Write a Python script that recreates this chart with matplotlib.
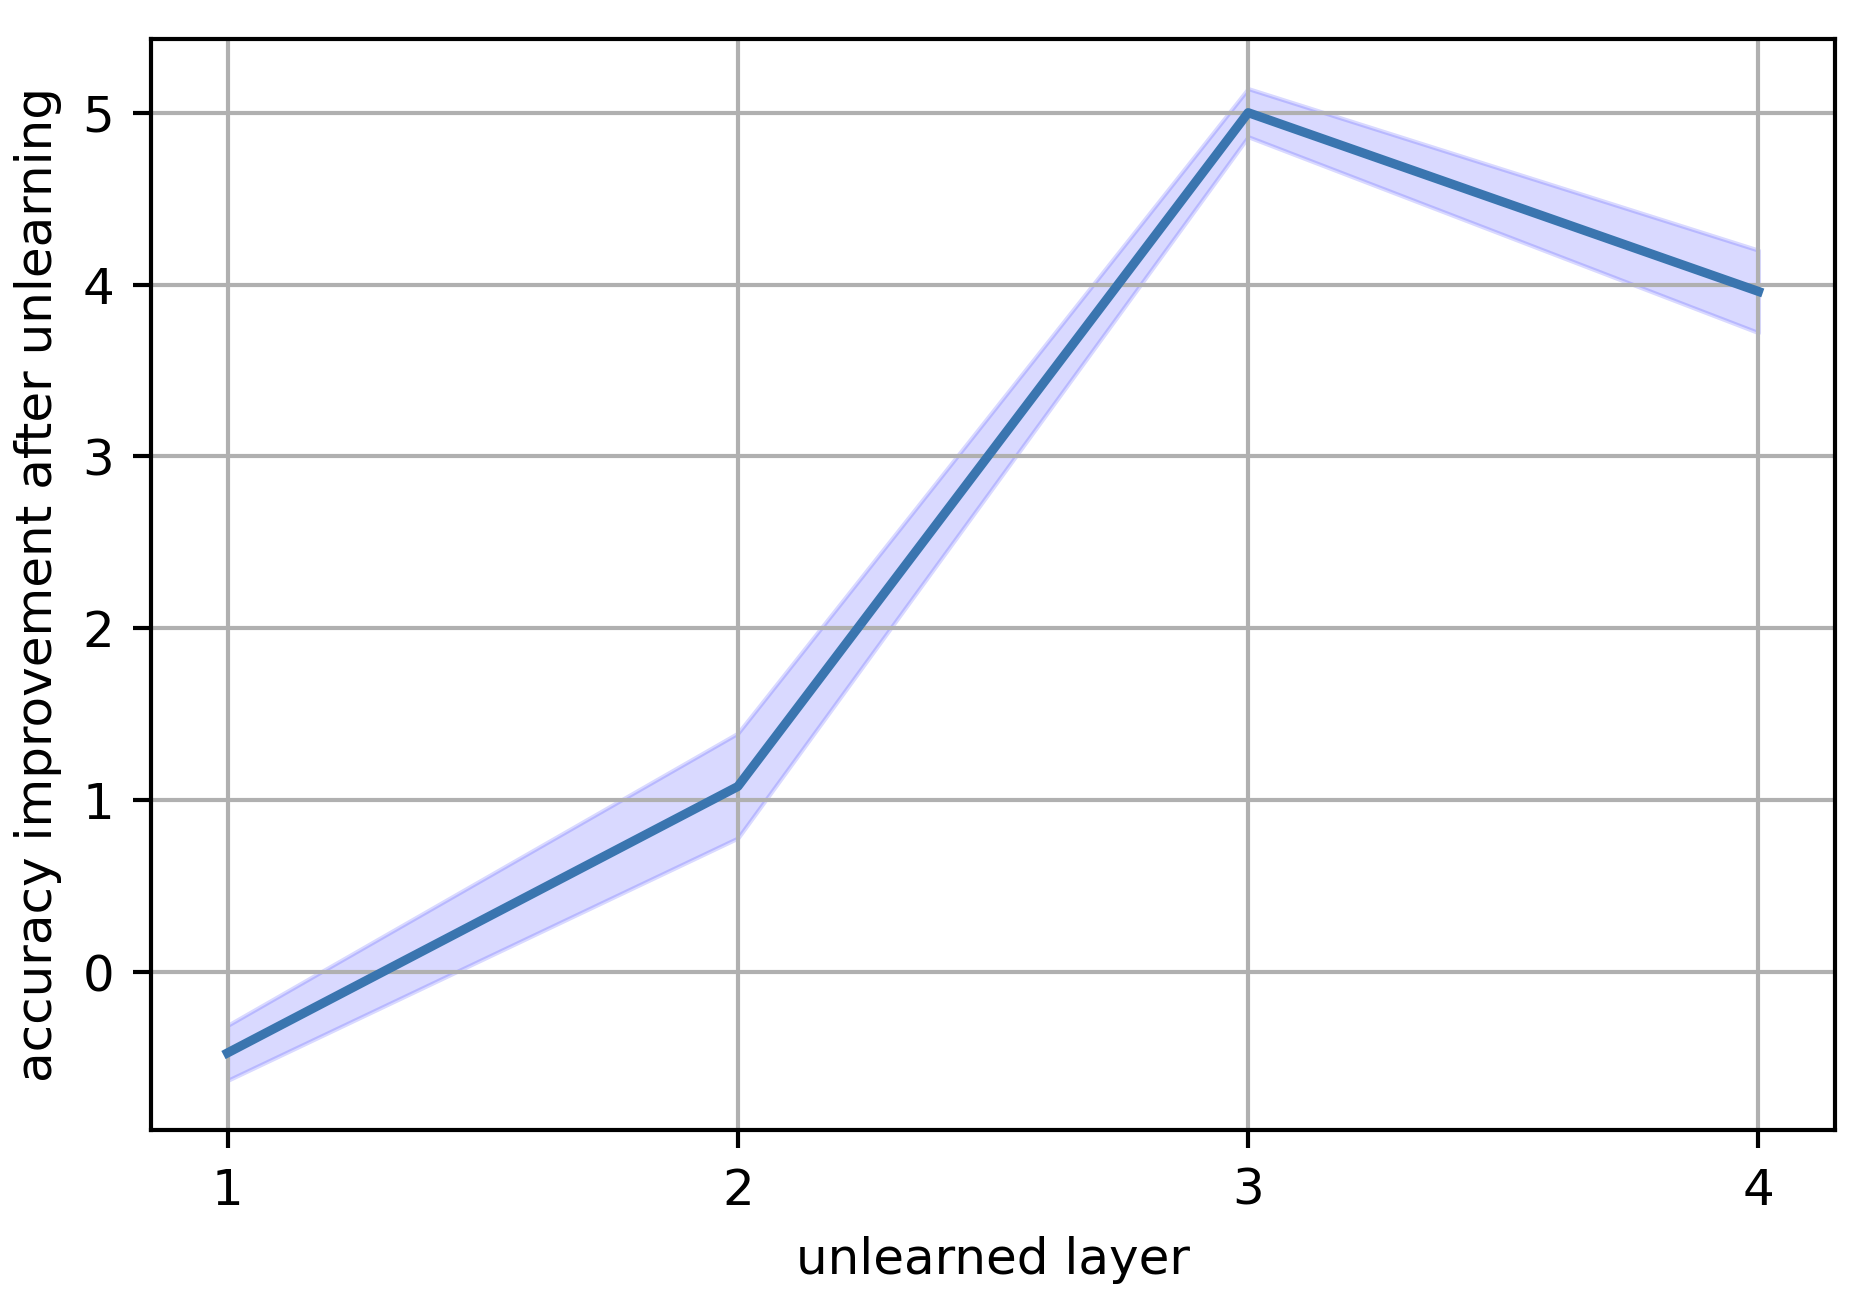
import matplotlib
matplotlib.use("Agg")
import matplotlib.pyplot as plt
import numpy as np

layers = [1, 2, 3, 4]
mean_improvement = [-0.47, 1.08, 5.00, 3.96]
upper_band = [-0.31, 1.39, 5.14, 4.20]
lower_band = [-0.63, 0.78, 4.86, 3.72]

plt.rcParams['font.size'] = 12
plt.rcParams['axes.linewidth'] = 1.0
plt.rcParams['grid.linewidth'] = 1.0
plt.rcParams['xtick.major.size'] = 4.4
plt.rcParams['ytick.major.size'] = 4.4
plt.rcParams['xtick.major.width'] = 1.0
plt.rcParams['ytick.major.width'] = 1.0
plt.rcParams['xtick.major.pad'] = 4.4
plt.rcParams['ytick.major.pad'] = 4.4
plt.rcParams['axes.labelpad'] = 5.0

fig = plt.figure(figsize=(1856/300, 1304/300), dpi=300)
ax = fig.add_axes([151/1856, 1 - 1130/1304, (1835-151)/1856, (1130-39)/1304])
ax.fill_between(layers, lower_band, upper_band, color='blue', alpha=0.15)
ax.plot(layers, mean_improvement, color='#3a75af', linewidth=2.2)
ax.set_xticks(layers)
ax.grid(True)
ax.set_xlabel('unlearned layer')
ax.set_ylabel('accuracy improvement after unlearning')
fig.savefig('out.png', dpi=300)
